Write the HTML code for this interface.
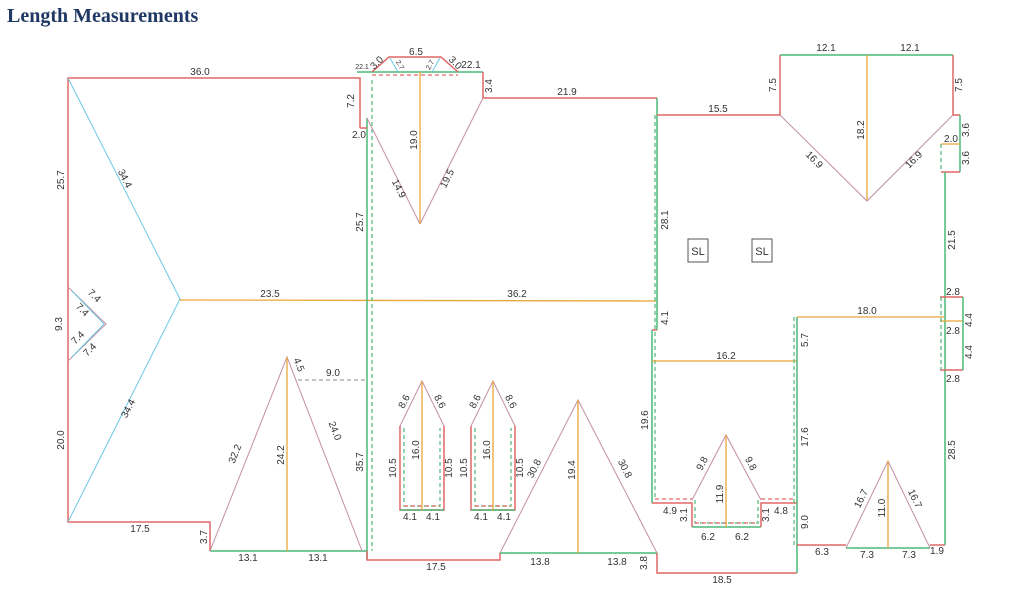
<!DOCTYPE html>
<html><head><meta charset="utf-8"><style>
html,body{margin:0;padding:0;background:#fff;width:1024px;height:598px;overflow:hidden}
svg{display:block}
text{font-family:"Liberation Sans",sans-serif;font-size:10px;fill:#333}
.r{stroke:#e06666;stroke-width:1.5;fill:none}
.g{stroke:#4cb878;stroke-width:1.5;fill:none}
.o{stroke:#e8a838;stroke-width:1.3;fill:none}
.m{stroke:#c48ea4;stroke-width:1;fill:none}
.c{stroke:#6cc8e4;stroke-width:1;fill:none}
.gd{stroke:#4cb878;stroke-width:1.2;stroke-dasharray:4,3;fill:none}
.rd{stroke:#e06666;stroke-width:1.2;stroke-dasharray:4,3;fill:none}
.kd{stroke:#888;stroke-width:1;stroke-dasharray:4,3;fill:none}
</style></head><body>
<svg width="1024" height="598" viewBox="0 0 1024 598" xmlns="http://www.w3.org/2000/svg">
<text x="7" y="22" style="font-family:'Liberation Serif',serif;font-size:20px;font-weight:bold;fill:#1f3864">Length Measurements</text>

<!-- LEFT SECTION -->
<polyline class="r" points="360,128 360,78 68,78 68,287"/>
<polyline class="r" points="68,287 68,361"/>
<polyline class="r" points="68,361 68,522 210,522 210,551"/>
<line class="g" x1="210" y1="551" x2="367" y2="551"/>
<polyline class="m" points="68,287 106,324 68,361"/>
<polyline class="c" points="72,291 104,324 72,357"/>
<polyline class="c" points="68,78 180,299 68,522"/>
<line class="o" x1="180" y1="300" x2="657" y2="301"/>
<text x="200" y="75" text-anchor="middle">36.0</text>
<text transform="translate(64,180) rotate(-90)" text-anchor="middle">25.7</text>
<text transform="translate(62,324) rotate(-90)" text-anchor="middle">9.3</text>
<text transform="translate(64,440) rotate(-90)" text-anchor="middle">20.0</text>
<text x="140" y="532" text-anchor="middle">17.5</text>
<text transform="translate(207,537) rotate(-90)" text-anchor="middle">3.7</text>
<text x="248" y="561" text-anchor="middle">13.1</text>
<text x="318" y="561" text-anchor="middle">13.1</text>
<text transform="translate(122,180) rotate(63)" text-anchor="middle">34.4</text>
<text transform="translate(131,410) rotate(-63)" text-anchor="middle">34.4</text>
<text transform="translate(92,298) rotate(45)" text-anchor="middle">7.4</text>
<text transform="translate(80,312) rotate(45)" text-anchor="middle">7.4</text>
<text transform="translate(80,340) rotate(-45)" text-anchor="middle">7.4</text>
<text transform="translate(92,352) rotate(-45)" text-anchor="middle">7.4</text>
<text x="270" y="297" text-anchor="middle">23.5</text>
<text x="517" y="297" text-anchor="middle">36.2</text>

<!-- left gable -->
<polyline class="m" points="210,551 287,357 362,551"/>
<line class="o" x1="287" y1="357" x2="287" y2="551"/>
<line class="kd" x1="298" y1="380" x2="368" y2="380"/>
<text x="333" y="376" text-anchor="middle">9.0</text>
<text transform="translate(296,366) rotate(68)" text-anchor="middle">4.5</text>
<text transform="translate(238,455) rotate(-68)" text-anchor="middle">32.2</text>
<text transform="translate(332,432) rotate(68)" text-anchor="middle">24.0</text>
<text transform="translate(284,455) rotate(-90)" text-anchor="middle">24.2</text>

<!-- middle block -->
<line class="g" x1="367" y1="118" x2="367" y2="560"/>
<line class="gd" x1="372" y1="80" x2="372" y2="551"/>
<polyline class="r" points="367,551 367,560 500,560 500,553"/>
<text transform="translate(363,222) rotate(-90)" text-anchor="middle">25.7</text>
<text transform="translate(363,462) rotate(-90)" text-anchor="middle">35.7</text>
<text x="436" y="570" text-anchor="middle">17.5</text>

<!-- top dormer -->
<line class="r" x1="360" y1="128" x2="367" y2="128"/>
<line class="g" x1="357" y1="72" x2="483" y2="72"/>
<polyline class="r" points="372,72 389,57 441,57 458,72"/>
<line class="c" x1="390" y1="58" x2="398" y2="72"/>
<line class="c" x1="440" y1="58" x2="432" y2="72"/>
<line class="rd" x1="372" y1="75" x2="458" y2="75"/>
<polyline class="r" points="483,72 483,98 657,98"/>
<line class="m" x1="367" y1="118" x2="420" y2="224"/>
<line class="m" x1="483" y1="98" x2="420" y2="224"/>
<line class="o" x1="420" y1="72" x2="420" y2="224"/>
<text x="416" y="55" text-anchor="middle">6.5</text>
<text transform="translate(379,65) rotate(-45)" text-anchor="middle">3.0</text>
<text transform="translate(453,65) rotate(45)" text-anchor="middle">3.0</text>
<text transform="translate(398,66) rotate(60)" text-anchor="middle" style="font-size:7px">2.7</text>
<text transform="translate(432,66) rotate(-60)" text-anchor="middle" style="font-size:7px">2.7</text>
<text x="362" y="69" text-anchor="middle" style="font-size:7px">22.1</text>
<text x="471" y="68" text-anchor="middle">22.1</text>
<text transform="translate(354,101) rotate(-90)" text-anchor="middle">7.2</text>
<text x="359" y="138" text-anchor="middle">2.0</text>
<text transform="translate(492,86) rotate(-90)" text-anchor="middle">3.4</text>
<text x="567" y="95" text-anchor="middle">21.9</text>
<text transform="translate(417,140) rotate(-90)" text-anchor="middle">19.0</text>
<text transform="translate(396,190) rotate(63)" text-anchor="middle">14.9</text>
<text transform="translate(450,180) rotate(-63)" text-anchor="middle">19.5</text>

<!-- dormers -->
<g>
<polyline class="r" points="400,426 400,510 444,510 444,426"/>
<polyline class="m" points="400,426 422,381 444,426"/>
<line class="g" x1="400" y1="510" x2="444" y2="510"/>
<polyline class="gd" points="404,428 404,506 440,506 440,428"/>
<line class="rd" x1="404" y1="506" x2="440" y2="506"/>
<line class="o" x1="422" y1="381" x2="422" y2="510"/>
<text transform="translate(407,403) rotate(-62)" text-anchor="middle">8.6</text>
<text transform="translate(437,403) rotate(62)" text-anchor="middle">8.6</text>
<text transform="translate(419,450) rotate(-90)" text-anchor="middle">16.0</text>
<text transform="translate(396,468) rotate(-90)" text-anchor="middle">10.5</text>
<text transform="translate(452,468) rotate(-90)" text-anchor="middle">10.5</text>
<text x="410" y="520" text-anchor="middle">4.1</text>
<text x="433" y="520" text-anchor="middle">4.1</text>
</g>
<g transform="translate(71,0)">
<polyline class="r" points="400,426 400,510 444,510 444,426"/>
<polyline class="m" points="400,426 422,381 444,426"/>
<line class="g" x1="400" y1="510" x2="444" y2="510"/>
<polyline class="gd" points="404,428 404,506 440,506 440,428"/>
<line class="rd" x1="404" y1="506" x2="440" y2="506"/>
<line class="o" x1="422" y1="381" x2="422" y2="510"/>
<text transform="translate(407,403) rotate(-62)" text-anchor="middle">8.6</text>
<text transform="translate(437,403) rotate(62)" text-anchor="middle">8.6</text>
<text transform="translate(419,450) rotate(-90)" text-anchor="middle">16.0</text>
<text transform="translate(396,468) rotate(-90)" text-anchor="middle">10.5</text>
<text transform="translate(452,468) rotate(-90)" text-anchor="middle">10.5</text>
<text x="410" y="520" text-anchor="middle">4.1</text>
<text x="433" y="520" text-anchor="middle">4.1</text>
</g>

<!-- middle gable -->
<polyline class="m" points="500,553 578,400 657,553"/>
<line class="g" x1="500" y1="553" x2="657" y2="553"/>
<line class="o" x1="578" y1="400" x2="578" y2="553"/>
<text transform="translate(575,470) rotate(-90)" text-anchor="middle">19.4</text>
<text transform="translate(537,470) rotate(-63)" text-anchor="middle">30.8</text>
<text transform="translate(622,470) rotate(63)" text-anchor="middle">30.8</text>
<text x="540" y="565" text-anchor="middle">13.8</text>
<text x="617" y="565" text-anchor="middle">13.8</text>

<!-- right middle block -->
<line class="g" x1="657" y1="98" x2="657" y2="330"/>
<line class="gd" x1="655" y1="115" x2="655" y2="500"/>
<line class="r" x1="652" y1="330" x2="657" y2="330"/>
<line class="g" x1="652" y1="330" x2="652" y2="503"/>
<line class="r" x1="657" y1="115" x2="780" y2="115"/>
<line class="o" x1="652" y1="361" x2="797" y2="361"/>
<text transform="translate(668,220) rotate(-90)" text-anchor="middle">28.1</text>
<text transform="translate(668,318) rotate(-90)" text-anchor="middle">4.1</text>
<text transform="translate(648,420) rotate(-90)" text-anchor="middle">19.6</text>
<text x="718" y="112" text-anchor="middle">15.5</text>
<text x="726" y="359" text-anchor="middle">16.2</text>
<rect x="688" y="239" width="20" height="23" fill="none" stroke="#555" stroke-width="1"/>
<text x="698" y="255" text-anchor="middle" style="font-size:11px">SL</text>
<rect x="752" y="239" width="20" height="23" fill="none" stroke="#555" stroke-width="1"/>
<text x="762" y="255" text-anchor="middle" style="font-size:11px">SL</text>

<!-- bottom notch -->
<polyline class="r" points="652,503 692,503 692,527"/>
<line class="g" x1="692" y1="527" x2="761" y2="527"/>
<polyline class="r" points="761,527 761,503 797,503"/>
<line class="rd" x1="655" y1="499" x2="692" y2="499"/>
<line class="rd" x1="761" y1="499" x2="794" y2="499"/>
<polyline class="gd" points="695,500 695,523 758,523 758,500"/>
<line class="rd" x1="695" y1="523" x2="758" y2="523"/>
<polyline class="m" points="692,500 726,435 761,500"/>
<line class="o" x1="726" y1="435" x2="726" y2="527"/>
<text x="670" y="514" text-anchor="middle">4.9</text>
<text x="781" y="514" text-anchor="middle">4.8</text>
<text transform="translate(687,515) rotate(-90)" text-anchor="middle">3.1</text>
<text transform="translate(769,515) rotate(-90)" text-anchor="middle">3.1</text>
<text x="708" y="540" text-anchor="middle">6.2</text>
<text x="742" y="540" text-anchor="middle">6.2</text>
<text transform="translate(705,465) rotate(-62)" text-anchor="middle">9.8</text>
<text transform="translate(748,465) rotate(62)" text-anchor="middle">9.8</text>
<text transform="translate(723,494) rotate(-90)" text-anchor="middle">11.9</text>

<polyline class="r" points="657,553 657,573 797,573"/>
<text transform="translate(647,563) rotate(-90)" text-anchor="middle">3.8</text>
<text x="722" y="583" text-anchor="middle">18.5</text>

<!-- right column -->
<line class="g" x1="797" y1="317" x2="797" y2="573"/>
<line class="gd" x1="794" y1="317" x2="794" y2="545"/>
<line class="o" x1="797" y1="317" x2="945" y2="317"/>
<text transform="translate(808,340) rotate(-90)" text-anchor="middle">5.7</text>
<text transform="translate(808,437) rotate(-90)" text-anchor="middle">17.6</text>
<text transform="translate(808,522) rotate(-90)" text-anchor="middle">9.0</text>
<text x="867" y="314" text-anchor="middle">18.0</text>

<line class="r" x1="797" y1="545" x2="846" y2="545"/>
<text x="822" y="555" text-anchor="middle">6.3</text>
<line class="g" x1="846" y1="548" x2="930" y2="548"/>
<polyline class="m" points="846,548 888,461 930,548"/>
<line class="o" x1="888" y1="461" x2="888" y2="548"/>
<text x="867" y="558" text-anchor="middle">7.3</text>
<text x="909" y="558" text-anchor="middle">7.3</text>
<text transform="translate(864,500) rotate(-64)" text-anchor="middle">16.7</text>
<text transform="translate(912,500) rotate(64)" text-anchor="middle">16.7</text>
<text transform="translate(885,508) rotate(-90)" text-anchor="middle">11.0</text>
<line class="r" x1="930" y1="545" x2="945" y2="545"/>
<text x="937" y="554" text-anchor="middle">1.9</text>

<!-- top right -->
<polyline class="r" points="780,115 780,55"/>
<line class="g" x1="780" y1="55" x2="953" y2="55"/>
<polyline class="r" points="953,55 953,115 960,115"/>
<line class="o" x1="867" y1="55" x2="867" y2="201"/>
<polyline class="m" points="780,115 867,201 953,115"/>
<text x="826" y="51" text-anchor="middle">12.1</text>
<text x="910" y="51" text-anchor="middle">12.1</text>
<text transform="translate(776,85) rotate(-90)" text-anchor="middle">7.5</text>
<text transform="translate(962,85) rotate(-90)" text-anchor="middle">7.5</text>
<text transform="translate(864,130) rotate(-90)" text-anchor="middle">18.2</text>
<text transform="translate(812,162) rotate(45)" text-anchor="middle">16.9</text>
<text transform="translate(916,162) rotate(-45)" text-anchor="middle">16.9</text>

<line class="g" x1="960" y1="115" x2="960" y2="172"/>
<line class="o" x1="941" y1="144" x2="960" y2="144"/>
<line class="r" x1="941" y1="172" x2="960" y2="172"/>
<line class="gd" x1="941" y1="144" x2="941" y2="172"/>
<text x="951" y="142" text-anchor="middle">2.0</text>
<text transform="translate(969,130) rotate(-90)" text-anchor="middle">3.6</text>
<text transform="translate(969,158) rotate(-90)" text-anchor="middle">3.6</text>

<line class="g" x1="945" y1="172" x2="945" y2="545"/>
<text transform="translate(955,240) rotate(-90)" text-anchor="middle">21.5</text>
<text transform="translate(955,450) rotate(-90)" text-anchor="middle">28.5</text>
<line class="r" x1="940" y1="297" x2="963" y2="297"/>
<line class="o" x1="940" y1="321" x2="963" y2="321"/>
<line class="r" x1="940" y1="370" x2="963" y2="370"/>
<line class="g" x1="963" y1="297" x2="963" y2="370"/>
<line class="gd" x1="941" y1="297" x2="941" y2="370"/>
<text x="953" y="295" text-anchor="middle">2.8</text>
<text x="953" y="334" text-anchor="middle">2.8</text>
<text x="953" y="382" text-anchor="middle">2.8</text>
<text transform="translate(972,320) rotate(-90)" text-anchor="middle">4.4</text>
<text transform="translate(972,352) rotate(-90)" text-anchor="middle">4.4</text>
</svg>
</body></html>
